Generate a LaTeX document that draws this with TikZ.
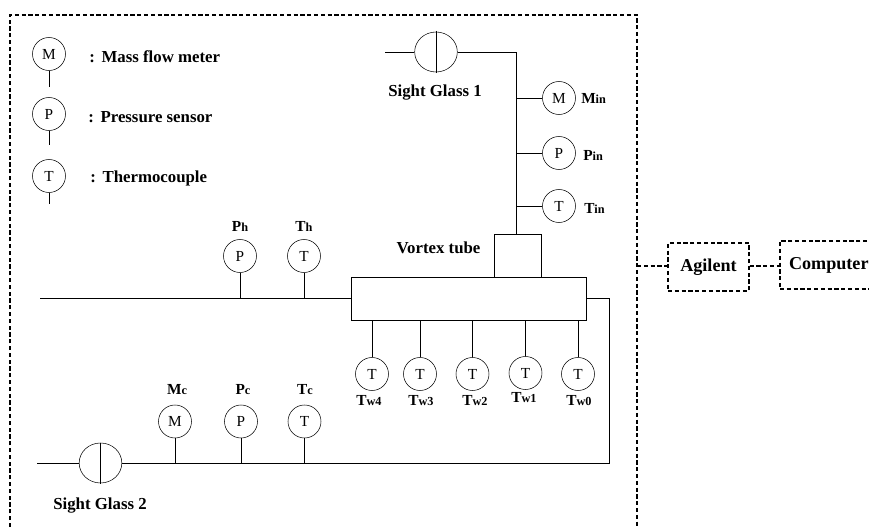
\documentclass[tikz,border=0pt]{standalone}
\usepackage{fontspec}
\usepackage{tikz}
\usetikzlibrary{shapes.geometric}
\setmainfont{Liberation Serif}
\def \r{33}
\newcommand{\sublabel}[2]{\fontsize{11.5}{12}\selectfont\bfseries #1{\fontsize{9.2}{10}\selectfont #2}}
\tikzset{
  sensor/.style={shape=circle, draw=black, minimum size=\r*0.75pt, inner sep=0pt, font=\fontsize{11.5}{13}\selectfont},
  glass/.style={shape=ellipse, draw=black, minimum width=32pt, minimum height=30pt, inner sep=0pt},
  tube/.style={shape=rectangle, draw=black, inner sep=0pt},
  caption/.style={font=\fontsize{12.6}{14}\selectfont\bfseries, inner sep=0pt},
  mark label/.style={inner sep=0pt},
  daq/.style={shape=rectangle, draw=black, line width=0.85pt, dash pattern=on 3.2pt off 1.9pt, inner sep=0pt, font=\fontsize{13.6}{15}\selectfont\bfseries},
  wire/.style={draw=black, line width=0.7pt},
  signal/.style={draw=black, line width=0.85pt, dash pattern=on 3.2pt off 1.9pt}
}
\begin{document}
\begin{tikzpicture}[x=0.75pt, y=-0.75pt]
    \useasboundingbox (0, 0) rectangle (869, 527);
    % enclosure, open at the bottom
    \coordinate (B1) at (10, 527);
    \coordinate (B2) at (10, 15);
    \coordinate (B3) at (637, 15);
    \coordinate (B4) at (637, 527);
    \coordinate (B5) at (637, 266);
    \path[signal] (B1) -- (B2) -- (B3) -- (B4);

    % legend
    \node[sensor] (LM) at (49, 54) {M};
    \node[sensor] (LP) at (49, 114) {P};
    \node[sensor] (LT) at (49, 176) {T};
    \coordinate (LM1) at (49, 87);
    \coordinate (LP1) at (49, 145);
    \coordinate (LT1) at (49, 204);
    \path[wire] (LM) edge (LM1);
    \path[wire] (LP) edge (LP1);
    \path[wire] (LT) edge (LT1);
    \node[caption, anchor=west] (LMT) at (89, 57) {:\hspace{0.4em}Mass flow meter};
    \node[caption, anchor=west] (LPT) at (88, 117) {:\hspace{0.4em}Pressure sensor};
    \node[caption, anchor=west] (LTT) at (90, 178) {:\hspace{0.4em}Thermocouple};

    % vortex tube
    \node[tube, minimum width=235*0.75pt, minimum height=43*0.75pt] (VT) at (468.5, 298.5) {};
    \node[tube, minimum width=47*0.75pt, minimum height=43*0.75pt] (IN) at (517.5, 255.5) {};
    \node[caption] (VTL) at (438.5, 248) {Vortex tube};

    % inlet line
    \coordinate (S1) at (385, 52);
    \node[glass] (G1) at (436, 52) {};
    \coordinate (G1T) at (436, 31);
    \coordinate (G1B) at (436, 73);
    \coordinate (E1) at (516, 52);
    \coordinate (E2) at (516, 234);
    \coordinate (J1) at (516, 98);
    \coordinate (J2) at (516, 153);
    \coordinate (J3) at (516, 206);
    \path[wire] (S1) edge (G1);
    \path[wire] (G1T) edge (G1B);
    \path[wire] (G1.east) -- (E1) -- (E2);
    \node[caption] (G1L) at (435, 93) {Sight Glass 1};
    \node[sensor] (Min) at (559, 98) {M};
    \node[sensor] (Pin) at (559, 153) {P};
    \node[sensor] (Tin) at (559, 206) {T};
    \path[wire] (J1) edge (Min);
    \path[wire] (J2) edge (Pin);
    \path[wire] (J3) edge (Tin);
    \node[mark label, anchor=west] (MinL) at (581, 98) {\sublabel{M}{in}};
    \node[mark label, anchor=west] (PinL) at (583, 155) {\sublabel{P}{in}};
    \node[mark label, anchor=west] (TinL) at (584, 208) {\sublabel{T}{in}};

    % hot line
    \coordinate (H0) at (40, 298);
    \coordinate (H1) at (351, 298);
    \coordinate (JPh) at (240, 298);
    \coordinate (JTh) at (304, 298);
    \path[wire] (H0) edge (H1);
    \node[sensor] (Ph) at (240, 256) {P};
    \node[sensor] (Th) at (304, 256) {T};
    \path[wire] (Ph) edge (JPh);
    \path[wire] (Th) edge (JTh);
    \node[mark label] (PhL) at (240, 226) {\sublabel{P}{h}};
    \node[mark label] (ThL) at (304, 226) {\sublabel{T}{h}};

    % wall thermocouples
    \node[sensor] (Tw4) at (372, 374) {T};
    \node[sensor] (Tw3) at (420, 374) {T};
    \node[sensor] (Tw2) at (472.5, 374) {T};
    \node[sensor] (Tw1) at (525.5, 373) {T};
    \node[sensor] (Tw0) at (578, 374) {T};
    \path[wire] (Tw4) edge (Tw4 |- VT.south);
    \path[wire] (Tw3) edge (Tw3 |- VT.south);
    \path[wire] (Tw2) edge (Tw2 |- VT.south);
    \path[wire] (Tw1) edge (Tw1 |- VT.south);
    \path[wire] (Tw0) edge (Tw0 |- VT.south);
    \node[mark label] (Tw4L) at (369, 401) {\sublabel{T}{w4}};
    \node[mark label] (Tw3L) at (421, 401) {\sublabel{T}{w3}};
    \node[mark label] (Tw2L) at (475, 401) {\sublabel{T}{w2}};
    \node[mark label] (Tw1L) at (524, 398) {\sublabel{T}{w1}};
    \node[mark label] (Tw0L) at (579, 401) {\sublabel{T}{w0}};

    % cold line
    \coordinate (C0) at (586, 298);
    \coordinate (C1) at (609, 298);
    \coordinate (C2) at (609, 463);
    \coordinate (C3) at (37, 463);
    \coordinate (JMc) at (175, 463);
    \coordinate (JPc) at (241, 463);
    \coordinate (JTc) at (304.5, 463);
    \path[wire] (C0) -- (C1) -- (C2) -- (C3);
    \node[glass, fill=white] (G2) at (100.5, 463) {};
    \coordinate (G2T) at (100.5, 443);
    \coordinate (G2B) at (100.5, 484);
    \path[wire] (G2T) edge (G2B);
    \node[caption] (G2L) at (100, 506) {Sight Glass 2};
    \node[sensor] (Mc) at (175, 421.5) {M};
    \node[sensor] (Pc) at (241, 421.5) {P};
    \node[sensor] (Tc) at (304.5, 421.5) {T};
    \path[wire] (Mc) edge (JMc);
    \path[wire] (Pc) edge (JPc);
    \path[wire] (Tc) edge (JTc);
    \node[mark label] (McL) at (177, 390) {\sublabel{M}{c}};
    \node[mark label] (PcL) at (243, 390) {\sublabel{P}{c}};
    \node[mark label] (TcL) at (305, 390) {\sublabel{T}{c}};

    % data acquisition
    \node[daq, minimum width=81*0.75pt, minimum height=48*0.75pt] (AG) at (708.5, 267) {Agilent};
    \node[daq, minimum width=108*0.75pt, minimum height=48*0.75pt, text width=90*0.75pt, align=left] (PC) at (834, 265) {Computer};
    \path[signal] (B5) edge (AG.west |- B5);
    \path[signal] (AG.east |- B5) edge (PC.west |- B5);
  \end{tikzpicture}
\end{document}
